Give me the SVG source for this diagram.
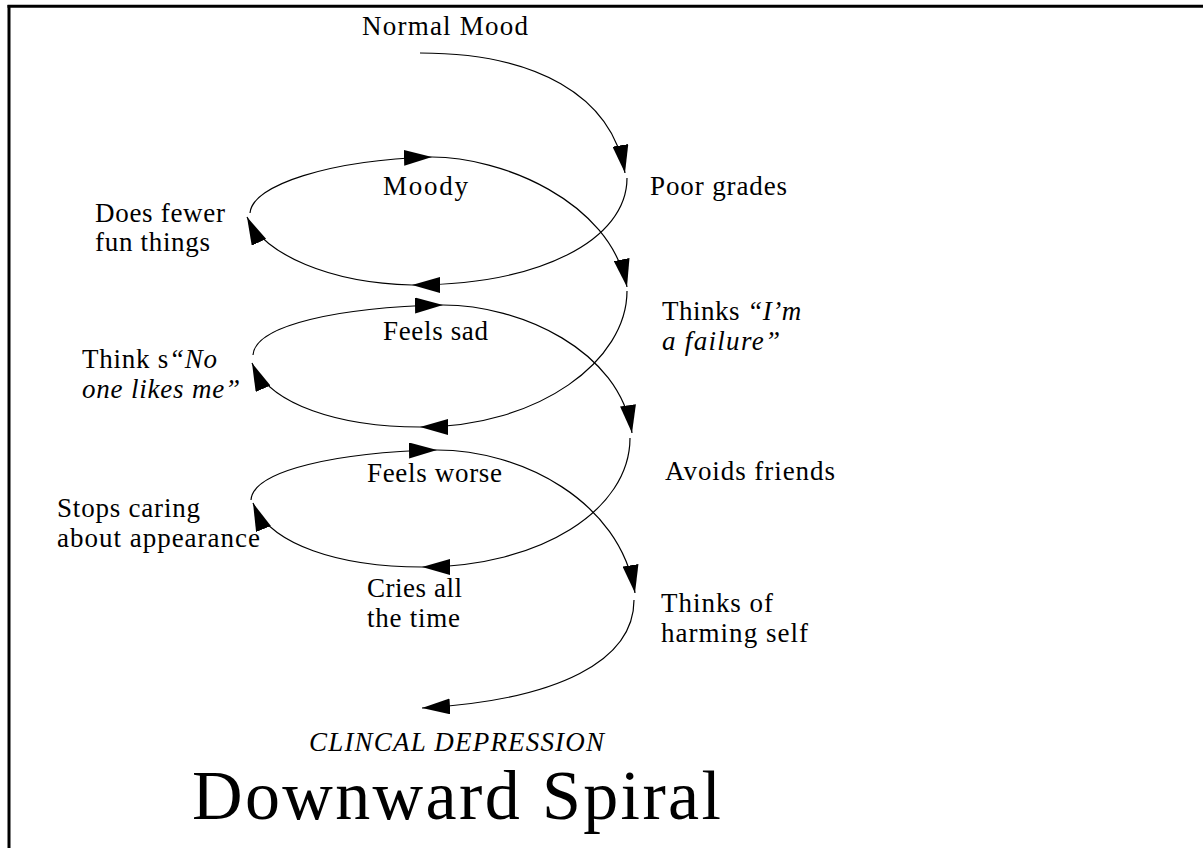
<svg xmlns="http://www.w3.org/2000/svg" width="1203" height="848" viewBox="0 0 1203 848">
<style>
.t{font-family:"Liberation Serif","Times New Roman",serif;font-size:27px;fill:#000}
.i{font-style:italic}
.c{fill:none;stroke:#000;stroke-width:1.2;marker-end:url(#ah)}
.b{stroke:#000;stroke-width:3;fill:none}
</style>
<defs>
<marker id="ah" viewBox="0 0 28 16" refX="28" refY="8" markerWidth="28" markerHeight="16" markerUnits="userSpaceOnUse" orient="auto">
<path d="M0,0 L28,8 L0,16 z" fill="#000"/>
</marker>
</defs>
<rect width="1203" height="848" fill="#fff"/>
<g id="frame">
<line class="b" x1="7.5" y1="6.3" x2="1203" y2="6.3"/>
<line class="b" x1="9" y1="5" x2="9" y2="848"/>
</g>
<g id="connectors">
<path class="c" d="M420,53 C535,53 612,95 625,173"/>
<path class="c" d="M627,178 C627,240 540,285 412,285"/>
<path class="c" d="M412,285 C330,283 265,255 247,217"/>
<path class="c" d="M250,213 C252,185 330,160 432,157"/>
<path class="c" d="M432,157 C500,157 610,200 627,287"/>
<path class="c" d="M627,291 C627,360 540,427 420,427"/>
<path class="c" d="M420,427 C340,427 270,405 252,363"/>
<path class="c" d="M253,355 C255,325 340,307 443,305"/>
<path class="c" d="M443,305 C520,305 620,350 632,433"/>
<path class="c" d="M630,438 C630,510 540,567 422,567"/>
<path class="c" d="M422,567 C340,567 270,545 253,503"/>
<path class="c" d="M251,500 C253,470 340,452 437,450"/>
<path class="c" d="M437,450 C520,450 620,500 635,593"/>
<path class="c" d="M634,600 C634,660 560,700 422,708"/>
</g>
<g id="normal-mood"><text class="t" x="362" y="35" textLength="166" lengthAdjust="spacing">Normal Mood</text></g>
<g id="poor-grades"><text class="t" x="650" y="195" textLength="137" lengthAdjust="spacing">Poor grades</text></g>
<g id="moody"><text class="t" x="383" y="195" textLength="85" lengthAdjust="spacing">Moody</text></g>
<g id="does-fewer">
<text class="t" x="95" y="222" textLength="130" lengthAdjust="spacing">Does fewer</text>
<text class="t" x="95" y="251" textLength="115" lengthAdjust="spacing">fun things</text>
</g>
<g id="thinks-failure">
<text class="t" x="662" y="320" letter-spacing="0.5">Thinks <tspan class="i">“I’m</tspan></text>
<text class="t i" x="662" y="350" textLength="118" lengthAdjust="spacing">a failure”</text>
</g>
<g id="feels-sad"><text class="t" x="383" y="340" textLength="105" lengthAdjust="spacing">Feels sad</text></g>
<g id="no-one-likes">
<text class="t" x="82" y="368" letter-spacing="0.75">Think s<tspan class="i">“No</tspan></text>
<text class="t i" x="82" y="398" textLength="158" lengthAdjust="spacing">one likes me”</text>
</g>
<g id="avoids-friends"><text class="t" x="665" y="480" textLength="170" lengthAdjust="spacing">Avoids friends</text></g>
<g id="feels-worse"><text class="t" x="367" y="482" textLength="135" lengthAdjust="spacing">Feels worse</text></g>
<g id="stops-caring">
<text class="t" x="57" y="517" textLength="143" lengthAdjust="spacing">Stops caring</text>
<text class="t" x="57" y="547" textLength="203" lengthAdjust="spacing">about appearance</text>
</g>
<g id="cries">
<text class="t" x="367" y="597" textLength="95" lengthAdjust="spacing">Cries all</text>
<text class="t" x="367" y="627" textLength="93" lengthAdjust="spacing">the time</text>
</g>
<g id="harming-self">
<text class="t" x="661" y="612" textLength="112" lengthAdjust="spacing">Thinks of</text>
<text class="t" x="661" y="642" textLength="147" lengthAdjust="spacing">harming self</text>
</g>
<g id="clinical-depression"><text class="t i" x="309" y="751" textLength="295" lengthAdjust="spacing">CLINCAL DEPRESSION</text></g>
<g id="title"><text class="t" x="192" y="819" style="font-size:70px" textLength="529" lengthAdjust="spacing">Downward Spiral</text></g>
</svg>
